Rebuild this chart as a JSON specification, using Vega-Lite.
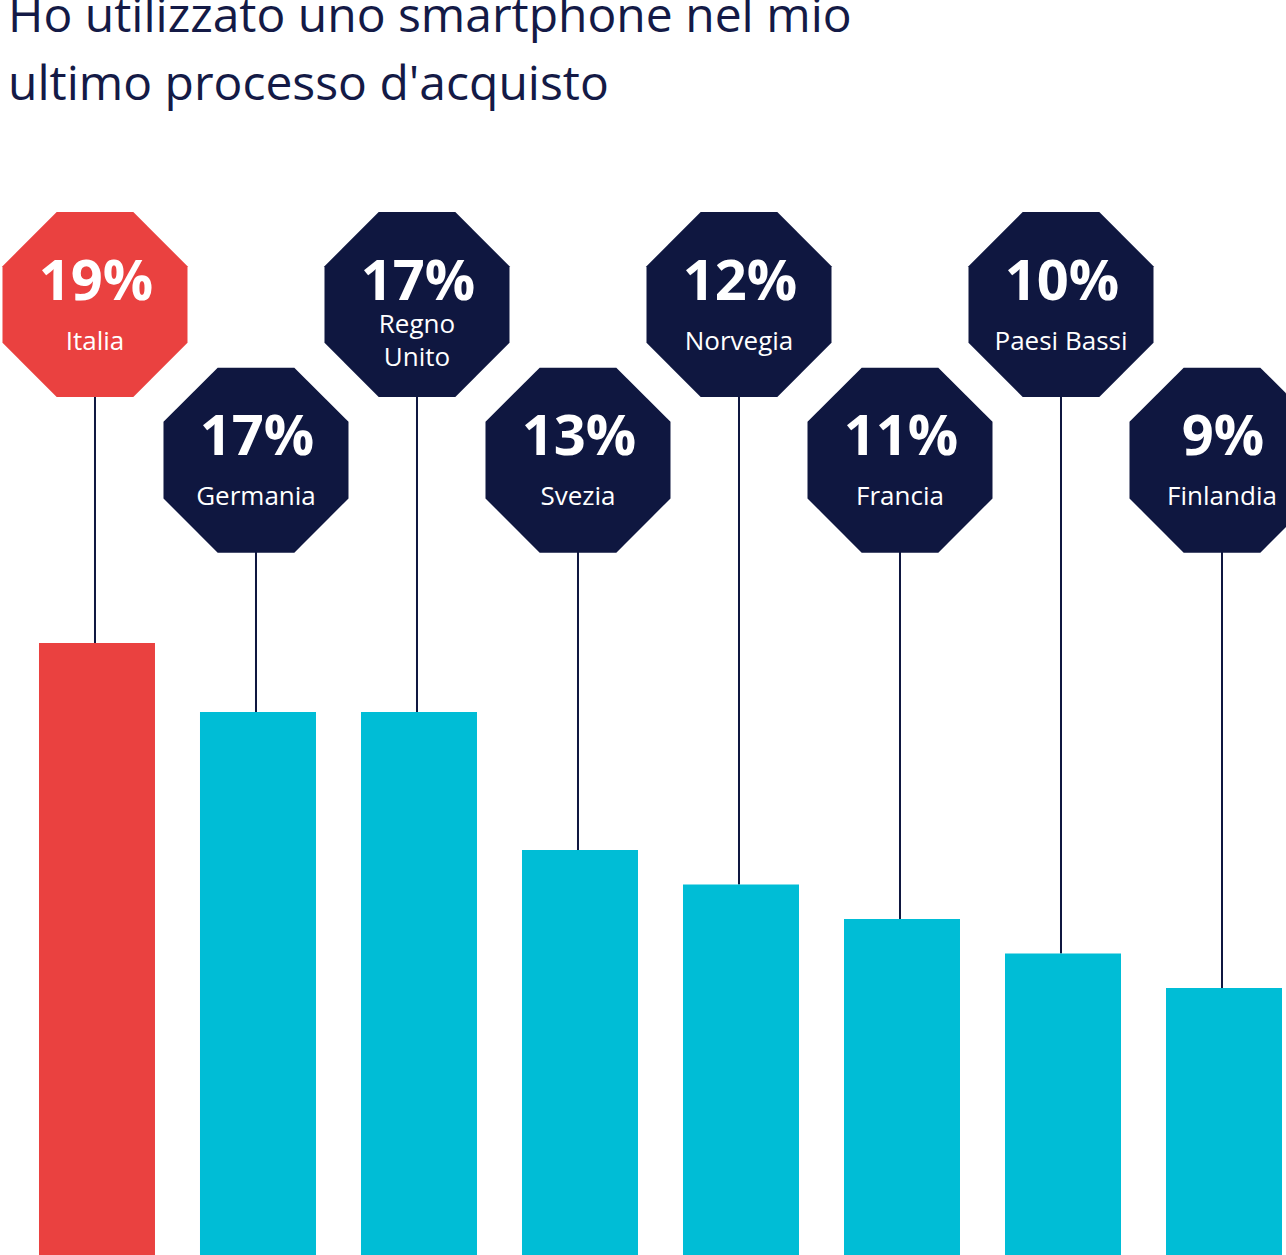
{
  "$schema": "https://vega.github.io/schema/vega-lite/v6.json",
  "width": 1286,
  "height": 1105,
  "autosize": {"type": "none"},
  "padding": {"top": 150, "left": 0, "right": 0, "bottom": 0},
  "background": "#ffffff",
  "title": {
    "text": ["Ho utilizzato uno smartphone nel mio", "ultimo processo d'acquisto"],
    "anchor": "start",
    "frame": "group",
    "font": "Open Sans",
    "fontSize": 48,
    "fontWeight": "normal",
    "color": "#141a46",
    "lineHeight": 68,
    "offset": 40,
    "dx": 8
  },
  "config": {
    "view": {"stroke": null},
    "axis": {"disable": true}
  },
  "data": {
    "values": [
      {"paese": "Italia", "etichetta": "Italia", "valore": 0.19},
      {"paese": "Germania", "etichetta": "Germania", "valore": 0.17},
      {"paese": "Regno Unito", "etichetta": "Regno\nUnito", "valore": 0.17},
      {"paese": "Svezia", "etichetta": "Svezia", "valore": 0.13},
      {"paese": "Norvegia", "etichetta": "Norvegia", "valore": 0.12},
      {"paese": "Francia", "etichetta": "Francia", "valore": 0.11},
      {"paese": "Paesi Bassi", "etichetta": "Paesi Bassi", "valore": 0.10},
      {"paese": "Finlandia", "etichetta": "Finlandia", "valore": 0.09}
    ]
  },
  "encoding": {
    "x": {
      "field": "paese",
      "type": "nominal",
      "sort": null,
      "axis": null,
      "scale": {
        "domain": ["Italia", "Germania", "Regno Unito", "Svezia", "Norvegia", "Francia", "Paesi Bassi", "Finlandia"],
        "paddingInner": 0.2795, "paddingOuter": 0.1335, "align": 0.907
      }
    }
  },
  "layer": [
    {
      "transform": [{"filter": {"field": "paese", "oneOf": ["Italia", "Regno Unito", "Norvegia", "Paesi Bassi"]}}],
      "mark": {"type": "rule", "color": "#0f1740", "strokeWidth": 2, "xOffset": -2},
      "encoding": {
        "y": {"field": "valore", "type": "quantitative", "axis": null, "scale": {"domain": [0.0126, 0.3329], "zero": false, "nice": false}},
        "y2": {"datum": 0.2881}
      }
    },
    {
      "transform": [{"filter": {"field": "paese", "oneOf": ["Germania", "Svezia", "Francia", "Finlandia"]}}],
      "mark": {"type": "rule", "color": "#0f1740", "strokeWidth": 2, "xOffset": -2},
      "encoding": {
        "y": {"field": "valore", "type": "quantitative"},
        "y2": {"datum": 0.2430}
      }
    },
    {
      "mark": {"type": "bar"},
      "encoding": {
        "y": {"field": "valore", "type": "quantitative"},
        "color": {
          "condition": {"test": "datum.paese === 'Italia'", "value": "#ea4140"},
          "value": "#00bdd6"
        }
      }
    },
    {
      "transform": [{"filter": {"field": "paese", "oneOf": ["Italia", "Regno Unito", "Norvegia", "Paesi Bassi"]}}],
      "encoding": {"y": {"datum": 0.2881, "type": "quantitative"}},
      "layer": [
        {
          "mark": {"type": "point", "filled": true, "opacity": 1, "strokeWidth": 0, "size": 34225, "xOffset": -2,
            "shape": "M -0.4142 -1 L 0.4142 -1 L 1 -0.4142 L 1 0.4142 L 0.4142 1 L -0.4142 1 L -1 0.4142 L -1 -0.4142 Z"},
          "encoding": {
            "color": {
              "condition": {"test": "datum.paese === 'Italia'", "value": "#ea4140"},
              "value": "#0f1740"
            }
          }
        },
        {
          "mark": {"type": "text", "font": "Open Sans", "fontWeight": "bold", "fontSize": 56, "color": "#ffffff", "baseline": "alphabetic", "dy": -5, "xOffset": -1},
          "encoding": {"text": {"field": "valore", "type": "quantitative", "format": ".0%"}}
        },
        {
          "transform": [{"filter": "indexof(datum.etichetta, '\\n') < 0"}],
          "mark": {"type": "text", "font": "Open Sans", "fontSize": 26, "color": "#ffffff", "baseline": "middle", "dy": 37, "xOffset": -2, "lineBreak": "\n", "lineHeight": 33},
          "encoding": {"text": {"field": "etichetta", "type": "nominal"}}
        },
        {
          "transform": [{"filter": "indexof(datum.etichetta, '\\n') >= 0"}],
          "mark": {"type": "text", "font": "Open Sans", "fontSize": 26, "color": "#ffffff", "baseline": "middle", "dy": 20, "xOffset": -2, "lineBreak": "\n", "lineHeight": 33},
          "encoding": {"text": {"field": "etichetta", "type": "nominal"}}
        }
      ]
    },
    {
      "transform": [{"filter": {"field": "paese", "oneOf": ["Germania", "Svezia", "Francia", "Finlandia"]}}],
      "encoding": {"y": {"datum": 0.2430, "type": "quantitative"}},
      "layer": [
        {
          "mark": {"type": "point", "filled": true, "opacity": 1, "strokeWidth": 0, "size": 34225, "xOffset": -2,
            "shape": "M -0.4142 -1 L 0.4142 -1 L 1 -0.4142 L 1 0.4142 L 0.4142 1 L -0.4142 1 L -1 0.4142 L -1 -0.4142 Z"},
          "encoding": {"color": {"value": "#0f1740"}}
        },
        {
          "mark": {"type": "text", "font": "Open Sans", "fontWeight": "bold", "fontSize": 56, "color": "#ffffff", "baseline": "alphabetic", "dy": -5, "xOffset": -1},
          "encoding": {"text": {"field": "valore", "type": "quantitative", "format": ".0%"}}
        },
        {
          "mark": {"type": "text", "font": "Open Sans", "fontSize": 26, "color": "#ffffff", "baseline": "middle", "dy": 37, "xOffset": -2, "lineBreak": "\n", "lineHeight": 33},
          "encoding": {"text": {"field": "etichetta", "type": "nominal"}}
        }
      ]
    }
  ]
}
